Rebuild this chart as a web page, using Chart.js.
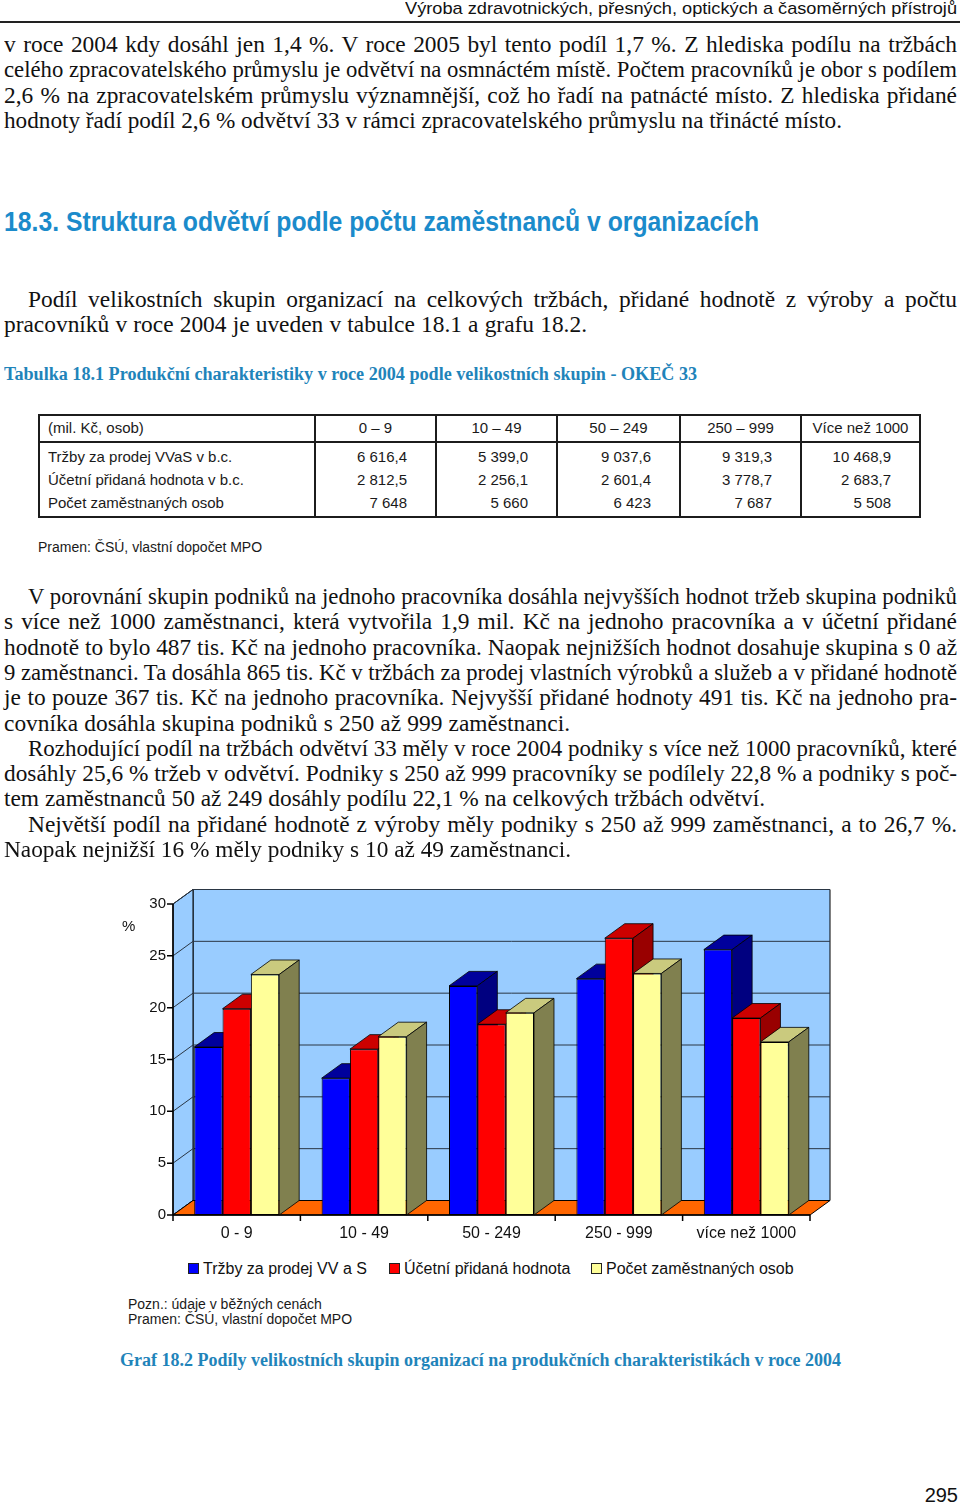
<!DOCTYPE html>
<html lang="cs">
<head>
<meta charset="utf-8">
<title>Graf 18.2</title>
<script src="https://cdn.jsdelivr.net/npm/chart.js@4.4.1/dist/chart.umd.min.js"></script>
<style>
  html, body { margin: 0; padding: 0; background: #fff; }
  #page { position: relative; width: 960px; height: 1505px; overflow: hidden; color: #111; }
  .abs { position: absolute; white-space: nowrap; }
  .abs span { display: inline-block; transform-origin: 0 50%; }
  .serif { font-family: "Liberation Serif", "Times New Roman", serif; }
  .sans { font-family: "Liberation Sans", Arial, sans-serif; }
  #graf { position: absolute; left: 0; top: 860px; }
</style>
</head>
<body>
<div id="page">
  <div class="abs" style="left:0;top:21px;width:960px;height:1.5px;background:#222"></div>
  <canvas id="graf" width="960" height="390"></canvas>
</div>
<script>
// chart data (shares in %)
const categories = ["0 - 9", "10 - 49", "50 - 249", "250 - 999", "více než 1000"];
const trzby = [16.2, 13.2, 22.1, 22.8, 25.6];
const pridana = [19.9, 16.0, 18.4, 26.7, 19.0];
const pocet = [23.2, 17.2, 19.5, 23.3, 16.7];
const seriesNames = ["Tržby za prodej VV a S", "Účetní přidaná hodnota", "Počet zaměstnaných osob"];
const yMax = 30;
const yStep = 5;

// table 18.1
const tableHead = ["(mil. Kč, osob)", "0 – 9", "10 – 49", "50 – 249", "250 – 999", "Více než 1000"];
const tableRows = [
  ["Tržby za prodej VVaS v b.c.", "6 616,4", "5 399,0", "9 037,6", "9 319,3", "10 468,9"],
  ["Účetní přidaná hodnota v b.c.", "2 812,5", "2 256,1", "2 601,4", "3 778,7", "2 683,7"],
  ["Počet zaměstnaných osob", "7 648", "5 660", "6 423", "7 687", "5 508"]
];

const frontColors = ["#0000FF", "#FF0000", "#FFFF99"];
const topColors = ["#00009C", "#CC0000", "#CACA7E"];
const sideColors = ["#000080", "#990000", "#80804F"];
const DEPTH = { x: 20, y: -14.5 };

const page = document.getElementById("page");

function addText(text, x, yc, cls, style, fitW, align) {
  const d = document.createElement("div");
  d.className = "abs " + cls;
  const lh = style.lh || 24;
  d.style.top = (yc - lh / 2) + "px";
  d.style.lineHeight = lh + "px";
  d.style.height = lh + "px";
  d.style.fontSize = style.size + "px";
  if (style.weight) d.style.fontWeight = style.weight;
  if (style.color) d.style.color = style.color;
  const s = document.createElement("span");
  s.textContent = text;
  d.appendChild(s);
  page.appendChild(d);
  const w = s.getBoundingClientRect().width;
  let sc = 1;
  if (fitW) { sc = fitW / w; s.style.transform = "scaleX(" + sc + ")"; }
  let left = x;
  if (align === "right") left = x - w * sc;
  if (align === "center") left = x - w * sc / 2;
  d.style.left = left + "px";
  return s;
}

// running header
addText("Výroba zdravotnických, přesných, optických a časoměrných přístrojů", 957, 9, "sans", { size: 17, lh: 20 }, 552, "right");

// body paragraphs: [text, left, right, lastLine]
const blocks = [
  { y: 45, lines: [
    ["v roce 2004 kdy dosáhl jen 1,4 %. V roce 2005 byl tento podíl 1,7 %. Z hlediska podílu na tržbách", 4, 957, false],
    ["celého zpracovatelského průmyslu je odvětví na osmnáctém místě. Počtem pracovníků je obor s podílem", 4, 957, false],
    ["2,6 % na zpracovatelském průmyslu významnější, což ho řadí na patnácté místo. Z hlediska přidané", 4, 957, false],
    ["hodnoty řadí podíl 2,6 % odvětví 33 v rámci zpracovatelského průmyslu na třinácté místo.", 4, 842, true]
  ]},
  { y: 300, lines: [
    ["Podíl velikostních skupin organizací na celkových tržbách, přidané hodnotě z výroby a počtu", 28, 957, false],
    ["pracovníků v roce 2004 je uveden v tabulce 18.1 a grafu 18.2.", 4, 587, true]
  ]},
  { y: 597, lines: [
    ["V porovnání skupin podniků na jednoho pracovníka dosáhla nejvyšších hodnot tržeb skupina podniků", 28, 957, false],
    ["s více než 1000 zaměstnanci, která vytvořila 1,9 mil. Kč na jednoho pracovníka a v účetní přidané", 4, 957, false],
    ["hodnotě to bylo 487 tis. Kč na jednoho pracovníka. Naopak nejnižších hodnot dosahuje skupina s 0 až", 4, 957, false],
    ["9 zaměstnanci. Ta dosáhla 865 tis. Kč v tržbách za prodej vlastních výrobků a služeb a v přidané hodnotě", 4, 957, false],
    ["je to pouze 367 tis. Kč na jednoho pracovníka. Nejvyšší přidané hodnoty 491 tis. Kč na jednoho pra-", 4, 957, false],
    ["covníka dosáhla skupina podniků s 250 až 999 zaměstnanci.", 4, 570, true],
    ["Rozhodující podíl na tržbách odvětví 33 měly v roce 2004 podniky s více než 1000 pracovníků, které", 28, 957, false],
    ["dosáhly 25,6 % tržeb v odvětví. Podniky s 250 až 999 pracovníky se podílely 22,8 % a podniky s poč-", 4, 957, false],
    ["tem zaměstnanců 50 až 249 dosáhly podílu 22,1 % na celkových tržbách odvětví.", 4, 765, true],
    ["Největší podíl na přidané hodnotě z výroby měly podniky s 250 až 999 zaměstnanci, a to 26,7 %.", 28, 957, false],
    ["Naopak nejnižší 16 % měly podniky s 10 až 49 zaměstnanci.", 4, 571, true]
  ]}
];

const LINE = 25.3;
const bodyLines = [];
blocks.forEach(b => {
  b.lines.forEach((l, i) => {
    const s = addText(l[0], l[1], b.y + i * LINE, "serif", { size: 22.5, lh: 26 });
    bodyLines.push({ span: s, target: l[2] - l[1], last: l[3], w: s.getBoundingClientRect().width, n: (l[0].match(/ /g) || []).length });
  });
});
// common horizontal condensing taken from the unjustified last lines
const lasts = bodyLines.filter(l => l.last);
const k = lasts.reduce((acc, l) => acc + l.target / l.w, 0) / lasts.length;
bodyLines.forEach(l => {
  const sc = Math.min(k, l.target / l.w);
  const ws = (l.target / sc - l.w) / l.n;
  l.span.style.wordSpacing = ws + "px";
  l.span.style.transform = "scaleX(" + sc + ")";
});

// headings
addText("18.3. Struktura odvětví podle počtu zaměstnanců v organizacích", 4, 222, "sans", { size: 27, lh: 32, weight: "bold", color: "#1b8bcb" }, 755);
addText("Tabulka 18.1 Produkční charakteristiky v roce 2004 podle velikostních skupin - OKEČ 33", 4, 374, "serif", { size: 18, lh: 22, weight: "bold", color: "#1f84ba" }, 693);
addText("Graf 18.2 Podíly velikostních skupin organizací na produkčních charakteristikách v roce 2004", 120, 1360, "serif", { size: 18, lh: 22, weight: "bold", color: "#1f84ba" }, 721);

// table 18.1
const colEdges = [39, 315, 436, 557, 680, 801, 920];
const tbl = document.createElement("div");
tbl.className = "abs";
Object.assign(tbl.style, { left: "38px", top: "414px", width: "883px", height: "104px", border: "2px solid #1c1c1c", boxSizing: "border-box" });
page.appendChild(tbl);
const hline = document.createElement("div");
hline.className = "abs";
Object.assign(hline.style, { left: "38px", top: "441px", width: "883px", height: "2px", background: "#1c1c1c" });
page.appendChild(hline);
colEdges.slice(1, -1).forEach(x => {
  const v = document.createElement("div");
  v.className = "abs";
  Object.assign(v.style, { left: (x - 0.75) + "px", top: "414px", width: "1.5px", height: "104px", background: "#1c1c1c" });
  page.appendChild(v);
});
const cellFont = { size: 15, lh: 20, color: "#1a1a1a" };
tableHead.forEach((t, c) => {
  if (c === 0) addText(t, 48, 428, "sans", cellFont);
  else addText(t, (colEdges[c] + colEdges[c + 1]) / 2, 428, "sans", cellFont, null, "center");
});
const rowY = [457, 480, 503];
tableRows.forEach((row, r) => {
  row.forEach((t, c) => {
    if (c === 0) addText(t, 48, rowY[r], "sans", cellFont);
    else addText(t, colEdges[c + 1] - 29, rowY[r], "sans", cellFont, null, "right");
  });
});
addText("Pramen: ČSÚ, vlastní dopočet MPO", 38, 547, "sans", { size: 14, lh: 18, color: "#1a1a1a" });

// chart extras
addText("%", 122, 926, "sans", { size: 15, lh: 18 });
addText("Pozn.: údaje v běžných cenách", 128, 1304, "sans", { size: 14, lh: 16, color: "#1a1a1a" });
addText("Pramen: ČSÚ, vlastní dopočet MPO", 128, 1319, "sans", { size: 14, lh: 16, color: "#1a1a1a" });
addText("295", 958, 1495, "sans", { size: 20, lh: 22 }, null, "right");

// legend
const legendX = [188, 389, 591];
seriesNames.forEach((name, i) => {
  const box = document.createElement("div");
  box.className = "abs";
  Object.assign(box.style, { left: legendX[i] + "px", top: "1263px", width: "11px", height: "11px", background: frontColors[i], border: "1px solid #222", boxSizing: "border-box" });
  page.appendChild(box);
  addText(name, legendX[i] + 15, 1269, "sans", { size: 16, lh: 20 });
});

// 3D walls, floor and bar sides
function poly(ctx, pts, fill, stroke) {
  ctx.beginPath();
  ctx.moveTo(pts[0][0], pts[0][1]);
  pts.slice(1).forEach(p => ctx.lineTo(p[0], p[1]));
  ctx.closePath();
  if (fill) { ctx.fillStyle = fill; ctx.fill(); }
  if (stroke) { ctx.strokeStyle = stroke; ctx.stroke(); }
}

const walls3d = {
  id: "walls3d",
  beforeDatasetsDraw(chart) {
    const { ctx, chartArea: a, scales } = chart;
    const dx = DEPTH.x, dy = DEPTH.y;
    ctx.save();
    ctx.lineWidth = 1;
    // back wall and side wall
    poly(ctx, [[a.left + dx, a.top + dy], [a.right + dx, a.top + dy], [a.right + dx, a.bottom + dy], [a.left + dx, a.bottom + dy]], "#99CCFF", "#000");
    poly(ctx, [[a.left, a.top], [a.left + dx, a.top + dy], [a.left + dx, a.bottom + dy], [a.left, a.bottom]], "#99CCFF", "#000");
    // gridlines
    ctx.strokeStyle = "#2a3644";
    scales.y.ticks.forEach(t => {
      const py = scales.y.getPixelForValue(t.value);
      ctx.beginPath();
      ctx.moveTo(a.left, py);
      ctx.lineTo(a.left + dx, py + dy);
      ctx.lineTo(a.right + dx, py + dy);
      ctx.stroke();
    });
    // floor
    poly(ctx, [[a.left, a.bottom], [a.right, a.bottom], [a.right + dx, a.bottom + dy], [a.left + dx, a.bottom + dy]], "#FF6600", "#000");
    // front value axis with tick marks
    ctx.strokeStyle = "#000";
    ctx.lineWidth = 1.5;
    ctx.beginPath();
    ctx.moveTo(a.left, a.top);
    ctx.lineTo(a.left, a.bottom);
    scales.y.ticks.forEach(t => {
      const py = scales.y.getPixelForValue(t.value);
      ctx.moveTo(a.left - 6, py);
      ctx.lineTo(a.left, py);
    });
    // front floor edge with category tick marks
    ctx.moveTo(a.left, a.bottom);
    ctx.lineTo(a.right, a.bottom);
    const step = scales.x.getPixelForValue(1) - scales.x.getPixelForValue(0);
    for (let i = 0; i <= categories.length; i++) {
      const px = scales.x.getPixelForValue(i) - step / 2;
      ctx.moveTo(px, a.bottom);
      ctx.lineTo(px, a.bottom + 6);
    }
    ctx.stroke();
    // bar tops and sides, left to right so the fronts overlap correctly
    ctx.lineWidth = 0.8;
    const metas = chart.data.datasets.map((_, d) => chart.getDatasetMeta(d));
    for (let i = 0; i < categories.length; i++) {
      metas.forEach((m, d) => {
        const el = m.data[i].getProps(["x", "y", "base", "width"], true);
        const x0 = el.x - el.width / 2, x1 = el.x + el.width / 2;
        poly(ctx, [[x0, el.y], [x1, el.y], [x1 + dx, el.y + dy], [x0 + dx, el.y + dy]], topColors[d], "#000");
        poly(ctx, [[x1, el.y], [x1 + dx, el.y + dy], [x1 + dx, el.base + dy], [x1, el.base]], sideColors[d], "#000");
      });
    }
    ctx.restore();
  }
};

Chart.defaults.font.family = '"Liberation Sans", Arial, sans-serif';
Chart.defaults.color = "#111";

const seriesData = [trzby, pridana, pocet];
new Chart(document.getElementById("graf").getContext("2d"), {
  type: "bar",
  data: {
    labels: categories,
    datasets: seriesData.map((values, i) => ({
      label: seriesNames[i],
      data: values,
      backgroundColor: frontColors[i],
      borderColor: "#000",
      borderWidth: 1,
      borderSkipped: false,
      categoryPercentage: 0.667,
      barPercentage: 1.0
    }))
  },
  options: {
    responsive: false,
    animation: false,
    devicePixelRatio: 1,
    layout: { padding: { left: 133, right: 150, top: 44, bottom: 5 } },
    plugins: {
      legend: { display: false },
      tooltip: { enabled: false }
    },
    scales: {
      x: {
        grid: { display: false, drawTicks: false },
        border: { display: false },
        ticks: { padding: 9, font: { size: 16 }, maxRotation: 0, autoSkip: false },
        afterFit(s) { s.height = 30; }
      },
      y: {
        min: 0,
        max: yMax,
        grid: { display: false, drawTicks: false },
        border: { display: false },
        ticks: { stepSize: yStep, padding: 7, font: { size: 15 } },
        afterFit(s) { s.width = 40; }
      }
    }
  },
  plugins: [walls3d]
});
</script>
</body>
</html>
